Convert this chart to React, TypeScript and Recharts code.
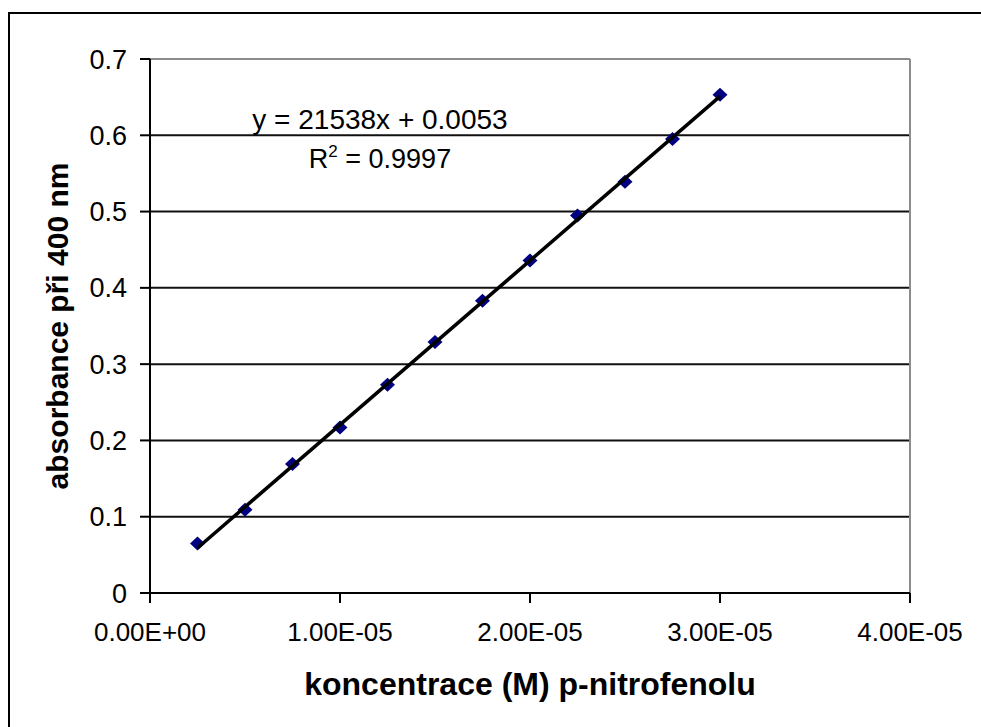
import { ScatterChart, Scatter, XAxis, YAxis, CartesianGrid, ReferenceLine } from 'recharts';

// koncentrace p-nitrofenolu (M) a absorbance při 400 nm
const concentrations = [2.5e-6, 5e-6, 7.5e-6, 1e-5, 1.25e-5, 1.5e-5, 1.75e-5, 2e-5, 2.25e-5, 2.5e-5, 2.75e-5, 3e-5];
const absorbances = [0.065, 0.109, 0.169, 0.217, 0.273, 0.329, 0.383, 0.436, 0.495, 0.539, 0.595, 0.653];

// lineární trend (konce přímky)
const trendX = [2.5e-6, 3e-5];
const trendY = [0.059, 0.651];

const xTicks = [0, 1e-5, 2e-5, 3e-5, 4e-5];
const xTickLabels = ['0.00E+00', '1.00E-05', '2.00E-05', '3.00E-05', '4.00E-05'];
const yTicks = [0, 0.1, 0.2, 0.3, 0.4, 0.5, 0.6, 0.7];
const yTickLabels = ['0', '0.1', '0.2', '0.3', '0.4', '0.5', '0.6', '0.7'];

const points = concentrations.map((x, i) => ({ x, y: absorbances[i] }));
const trend = trendX.map((x, i) => ({ x, y: trendY[i] }));

const FONT = '"Liberation Sans", Arial, sans-serif';

const Diamond = (props: any) => {
  const { cx, cy } = props;
  if (cx == null || cy == null) return <g />;
  return (
    <polygon
      points={`${cx - 7.5},${cy} ${cx},${cy - 7} ${cx + 7.5},${cy} ${cx},${cy + 7}`}
      fill="#000080"
    />
  );
};

const YTitle = ({ viewBox }: any) => (
  <text
    x={viewBox.x + 57}
    y={viewBox.y + viewBox.height / 2}
    transform={`rotate(-90, ${viewBox.x + 57}, ${viewBox.y + viewBox.height / 2})`}
    textAnchor="middle"
    dominantBaseline="central"
    fontSize={30}
    fontWeight="bold"
    fill="#000"
  >
    absorbance při 400 nm
  </text>
);

const XTitle = ({ viewBox }: any) => (
  <text
    x={viewBox.x + viewBox.width / 2}
    y={viewBox.y + 91}
    textAnchor="middle"
    dominantBaseline="central"
    fontSize={32}
    fontWeight="bold"
    fill="#000"
  >
    koncentrace (M) p-nitrofenolu
  </text>
);

const App = () => {
  return (
    <div style={{ position: 'relative', width: 981, height: 727, overflow: 'hidden', fontFamily: FONT }}>
      <style>{`body { margin: 0; overflow: hidden; }`}</style>
      <div
        style={{
          position: 'absolute',
          top: 12,
          left: 8,
          width: 1000,
          height: 800,
          border: '2px solid #000',
          boxSizing: 'border-box',
        }}
      />
      <div style={{ position: 'absolute', top: 0, left: 0 }}>
        <ScatterChart width={981} height={727} margin={{ top: 59, right: 71, left: 0, bottom: 0 }}>
          <CartesianGrid horizontal vertical={false} stroke="#111" strokeWidth={2} />
          <XAxis
            type="number"
            dataKey="x"
            domain={[0, 4e-5]}
            ticks={xTicks}
            tickFormatter={(v: number, i: number) => xTickLabels[i]}
            height={134}
            tickSize={10}
            tickMargin={20}
            tick={{ fill: '#000', fontSize: 26 }}
            axisLine={{ stroke: '#000', strokeWidth: 2 }}
            tickLine={{ stroke: '#000', strokeWidth: 2 }}
            label={<XTitle />}
          />
          <YAxis
            type="number"
            dataKey="y"
            domain={[0, 0.7]}
            ticks={yTicks}
            tickFormatter={(v: number, i: number) => yTickLabels[i]}
            width={150}
            tickSize={10}
            tickMargin={13}
            tick={{ fill: '#000', fontSize: 27 }}
            axisLine={{ stroke: '#000', strokeWidth: 2 }}
            tickLine={{ stroke: '#000', strokeWidth: 2 }}
            label={<YTitle />}
          />
          <ReferenceLine y={0.7} stroke="#8c8c8c" strokeWidth={2} />
          <ReferenceLine x={4e-5} stroke="#8c8c8c" strokeWidth={2} />
          <Scatter data={points} shape={<Diamond />} isAnimationActive={false} />
          <Scatter
            data={trend}
            shape={() => <g />}
            line={{ stroke: '#000', strokeWidth: 3.5 }}
            isAnimationActive={false}
          />
        </ScatterChart>
      </div>
      <div
        style={{
          position: 'absolute',
          left: 230,
          top: 104,
          width: 300,
          textAlign: 'center',
          fontSize: 28,
          lineHeight: '31px',
          color: '#000',
          whiteSpace: 'nowrap',
        }}
      >
        y = 21538x + 0.0053
      </div>
      <div
        style={{
          position: 'absolute',
          left: 230,
          top: 144,
          width: 300,
          textAlign: 'center',
          fontSize: 27,
          lineHeight: '31px',
          color: '#000',
          whiteSpace: 'nowrap',
        }}
      >
        R<span style={{ fontSize: 17, position: 'relative', top: -11 }}>2</span> = 0.9997
      </div>
    </div>
  );
};

export default App;
